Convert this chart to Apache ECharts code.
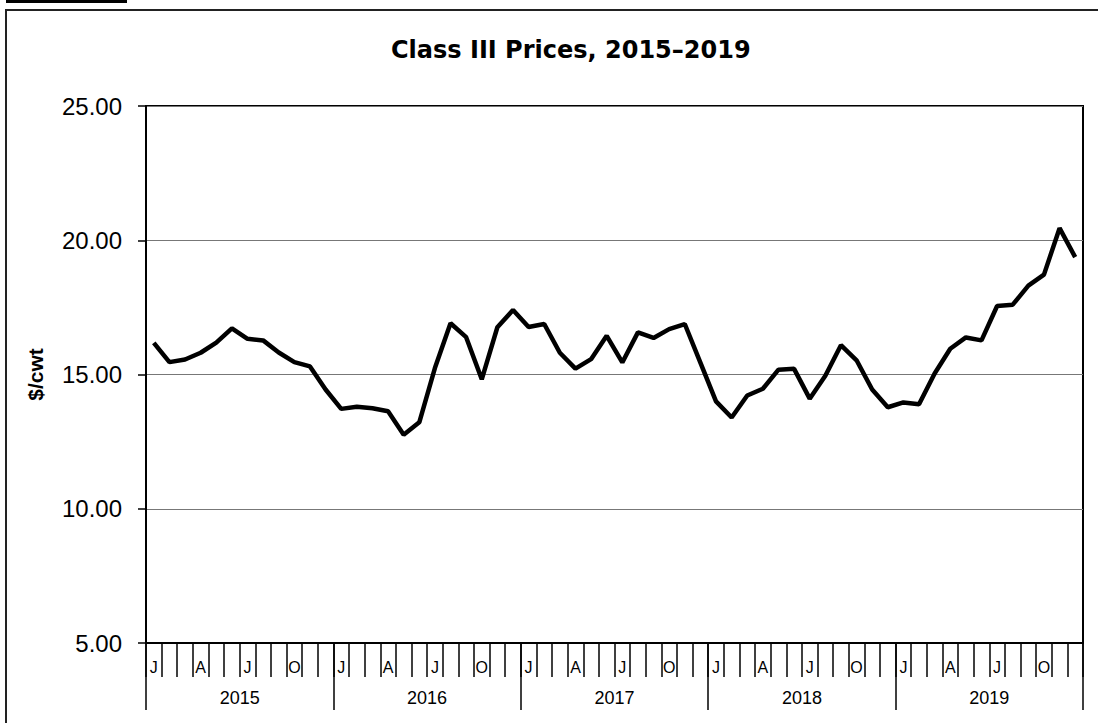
<!DOCTYPE html>
<html>
<head>
<meta charset="utf-8">
<script src="https://cdn.jsdelivr.net/npm/echarts@6/dist/echarts.min.js"></script>
<style>
  html, body { margin: 0; padding: 0; background: #fff; }
  #chart { width: 1098px; height: 723px; }
</style>
</head>
<body>
<div id="chart"></div>
<script>
document.addEventListener('DOMContentLoaded', function() {

    // Class III prices, $/cwt, Jan..Dec of each year
    const years = ['2015', '2016', '2017', '2018', '2019'];
    const monthLetters = ['J', '', '', 'A', '', '', 'J', '', '', 'O', '', ''];
    const yTicks = [5, 10, 15, 20, 25];
    const p2015 = [16.18, 15.46, 15.56, 15.81, 16.19, 16.72, 16.33, 16.27, 15.82, 15.46, 15.30, 14.44];
    const p2016 = [13.72, 13.80, 13.74, 13.63, 12.76, 13.22, 15.24, 16.91, 16.39, 14.82, 16.76, 17.40];
    const p2017 = [16.77, 16.88, 15.81, 15.22, 15.57, 16.44, 15.45, 16.57, 16.36, 16.69, 16.88, 15.44];
    const p2018 = [14.00, 13.40, 14.22, 14.47, 15.18, 15.21, 14.10, 14.95, 16.09, 15.53, 14.44, 13.78];
    const p2019 = [13.96, 13.89, 15.04, 15.96, 16.38, 16.27, 17.55, 17.60, 18.31, 18.72, 20.45, 19.37];

    const prices = [].concat(p2015, p2016, p2017, p2018, p2019);
    const months = [];
    years.forEach(y => monthLetters.forEach((m, i) => months.push(y + '-' + (i + 1))));

    const chart = echarts.init(document.getElementById('chart'), null, { renderer: 'svg' });

    chart.setOption({
        animation: false,
        title: {
            text: 'Class III Prices, 2015\u20132019',
            left: 386,
            top: 33,
            textStyle: {
                fontFamily: 'DejaVu Sans',
                fontWeight: 'bold',
                fontSize: 24,
                color: '#000'
            }
        },
        graphic: [
            { type: 'rect', shape: { x: 6, y: 0, width: 121, height: 3 }, style: { fill: '#000' } },
            { type: 'rect', shape: { x: 6, y: 10, width: 1100, height: 730 }, style: { fill: 'none', stroke: '#222', lineWidth: 2 } }
        ],
        grid: {
            left: 146,
            right: 15,
            top: 106,
            bottom: 80,
            show: true,
            borderColor: '#000',
            borderWidth: 2
        },
        xAxis: [{
            type: 'category',
            data: months,
            boundaryGap: true,
            axisLine: { show: true, lineStyle: { color: '#000', width: 2 } },
            axisTick: { show: true, interval: 0, length: 34, lineStyle: { color: '#000', width: 1.5 } },
            axisLabel: {
                show: true,
                interval: 0,
                margin: 16,
                fontSize: 16,
                fontFamily: 'Liberation Sans',
                color: '#000',
                formatter: (v, i) => monthLetters[i % 12]
            },
            splitLine: { show: false }
        }, {
            type: 'category',
            data: years,
            position: 'bottom',
            boundaryGap: true,
            axisLine: { show: false },
            axisTick: { show: true, interval: 0, length: 67, lineStyle: { color: '#000', width: 1.5 } },
            axisLabel: {
                show: true,
                interval: 0,
                margin: 46,
                fontSize: 18,
                fontFamily: 'Liberation Sans',
                color: '#000'
            },
            splitLine: { show: false }
        }],
        yAxis: {
            type: 'value',
            min: yTicks[0],
            max: yTicks[yTicks.length - 1],
            interval: 5,
            name: '$/cwt',
            nameLocation: 'middle',
            nameRotate: 90,
            nameGap: 100,
            nameTextStyle: {
                fontFamily: 'Liberation Sans',
                fontWeight: 'bold',
                fontSize: 21,
                color: '#000'
            },
            axisLine: { show: true, lineStyle: { color: '#000', width: 2 } },
            axisTick: { show: true, length: 8, lineStyle: { color: '#000', width: 1.5 } },
            axisLabel: {
                margin: 24,
                fontSize: 24,
                fontFamily: 'Liberation Sans',
                color: '#000',
                formatter: v => v.toFixed(2)
            },
            splitLine: { lineStyle: { color: '#777', width: 1 } }
        },
        series: [{
            name: 'Class III',
            type: 'line',
            xAxisIndex: 0,
            data: prices,
            showSymbol: false,
            lineStyle: { color: '#000', width: 4.5 },
            z: 5
        }]
    });

});
</script>
</body>
</html>
